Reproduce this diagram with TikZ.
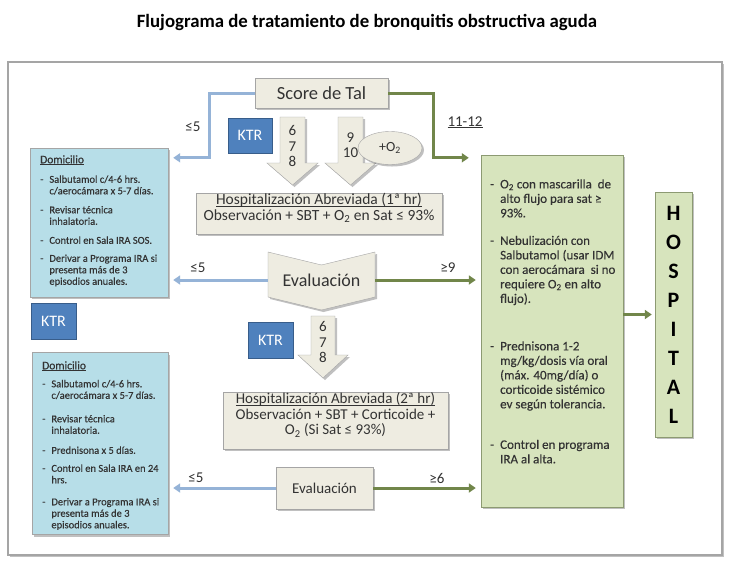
\documentclass[tikz,border=0pt]{standalone}
\usepackage{fontspec}
\setmainfont{Carlito}
\newfontfamily\notefont[FakeBold=0.3]{Carlito}
\usetikzlibrary{shapes,arrows.meta,shadows}
\definecolor{beige}{HTML}{EEECE1}
\definecolor{boxgray}{HTML}{A5A5A5}
\definecolor{textgray}{HTML}{333333}
\definecolor{homeblue}{HTML}{B7DEE8}
\definecolor{wardgreen}{HTML}{D7E4BD}
\definecolor{wardline}{HTML}{8C9A72}
\definecolor{ktrblue}{HTML}{4F81BD}
\definecolor{ktrline}{HTML}{385D8A}
\definecolor{lowblue}{HTML}{95B3D7}
\definecolor{highgreen}{HTML}{71864A}
\newcommand{\ulin}[1]{\underline{\smash{#1}}}
\tikzstyle{Shade} = [drop shadow={shadow xshift=2pt, shadow yshift=-2pt, opacity=.35, fill=black!70}]
\tikzstyle{Box} = [draw=boxgray, fill=beige, Shade, text=textgray, align=center, inner sep=0pt]
\tikzstyle{Shape} = [draw=boxgray, fill=beige, Shade]
\tikzstyle{Ktr} = [draw=ktrline, fill=ktrblue, text=white, font=\fontsize{16}{18}\selectfont, minimum width=44pt, minimum height=35pt, inner sep=0pt]
\tikzstyle{Home} = [draw=boxgray, fill=homeblue, Shade, inner sep=0pt]
\tikzstyle{Ward} = [draw=wardline, fill=wardgreen, Shade, inner sep=0pt]
\tikzstyle{Note} = [anchor=north west, inner sep=0pt, text=textgray, align=left]
\tikzstyle{Low} = [draw=lowblue, line width=3pt, -{Triangle[length=7pt,width=9pt]}, shorten >=5pt]
\tikzstyle{High} = [draw=highgreen, line width=3pt, -{Triangle[length=7pt,width=9pt]}, shorten >=5pt]
\tikzstyle{Label} = [text=textgray, font=\fontsize{15}{17}\selectfont]
\tikzstyle{Digits} = [text=textgray, align=center, font=\fontsize{15}{15.5}\selectfont]

\begin{document}
\begin{tikzpicture}[x=1pt,y=-1pt]
  \useasboundingbox (0,0) rectangle (734,566);
  \node[font=\bfseries\fontsize{18.8}{22}\selectfont] (title) at (367,22)
    {Flujograma de tratamiento de bronquitis obstructiva aguda};
  \node[draw=boxgray, line width=1.2pt, fill=white, Shade, minimum width=714pt, minimum height=493pt] (frame) at (365,308.5) {};

  % left column
  \node[Home, minimum width=138pt, minimum height=149pt] (dom1) at (99,222.5) {};
  \node[Note, font=\notefont\fontsize{10.5}{11.5}\selectfont] (dom1text) at (40,155) {%
    \begin{tabular}{@{}l@{\hspace{6pt}}l@{}}
      \multicolumn{2}{@{}l@{}}{\fontsize{11.5}{11.5}\selectfont\ulin{Domicilio}}\\[8pt]
      - & Salbutamol c/4-6 hrs.\\
        & c/aerocámara x 5-7 días.\\[7.5pt]
      - & Revisar técnica\\
        & inhalatoria.\\[7.5pt]
      - & Control en Sala IRA SOS.\\[6.5pt]
      - & Derivar a Programa IRA si\\
        & presenta más de 3\\
        & episodios anuales.
    \end{tabular}};
  \node[Ktr, minimum width=45pt, minimum height=36pt] (ktr3) at (53.5,321) {KTR};
  \node[Home, minimum width=136pt, minimum height=182pt] (dom2) at (100,443.5) {};
  \node[Note, font=\notefont\fontsize{10.5}{11.5}\selectfont] (dom2text) at (42,361) {%
    \begin{tabular}{@{}l@{\hspace{6pt}}l@{}}
      \multicolumn{2}{@{}l@{}}{\fontsize{11.5}{11.5}\selectfont\ulin{Domicilio}}\\[6.5pt]
      - & Salbutamol c/4-6 hrs.\\
        & c/aerocámara x 5-7 días.\\[12pt]
      - & Revisar técnica\\
        & inhalatoria.\\[8.5pt]
      - & Prednisona x 5 días.\\[6.5pt]
      - & Control en Sala IRA en 24\\
        & hrs.\\[10.5pt]
      - & Derivar a Programa IRA si\\
        & presenta más de 3\\
        & episodios anuales.
    \end{tabular}};

  % middle column
  \node[Box, minimum width=133pt, minimum height=30pt, font=\fontsize{18.5}{20}\selectfont] (score) at (321.5,93) {Score de Tal};
  \node[Ktr] (ktr1) at (250,135.5) {KTR};
  \draw[Shape] (280,117) -- (305,117) -- (305,163) -- (318,163) -- (292.5,185)
    -- (267,163) -- (280,163) -- cycle;
  \node[Digits] (n678a) at (292.5,146) {6\\7\\8};
  \draw[Shape] (338,117) -- (363,117) -- (363,163) -- (376,163) -- (350.5,185)
    -- (325,163) -- (338,163) -- cycle;
  \node[Digits] (n910) at (350.5,145) {9\\10};
  \node[Box, ellipse, minimum width=64pt, minimum height=33pt, font=\fontsize{14}{15}\selectfont] (oxy) at (390,148) {+O\textsubscript{2}};
  \node[Box, minimum width=246pt, minimum height=41pt, font=\fontsize{15.5}{16}\selectfont] (hosp1) at (319,213.5)
    {\ulin{Hospitalización Abreviada (1ª hr)}\\Observación + SBT + O\textsubscript{2} en Sat ≤ 93\%};
  \draw[Shape] (268,252) -- (321.5,265) -- (375,252) -- (375,297) -- (321.5,310)
    -- (268,297) -- cycle;
  \node[text=textgray, minimum width=107pt, minimum height=44pt, inner sep=0pt, font=\fontsize{18}{20}\selectfont] (eval1) at (321.5,280) {Evaluación};
  \node[Ktr, minimum width=45pt, minimum height=36pt] (ktr2) at (270.5,340) {KTR};
  \draw[Shape] (311,316) -- (335,316) -- (335,355) -- (348,355) -- (323,378)
    -- (298,355) -- (311,355) -- cycle;
  \node[Digits] (n678b) at (323,342) {6\\7\\8};
  \node[Box, minimum width=225pt, minimum height=57pt, font=\fontsize{15}{15.5}\selectfont] (hosp2) at (335.5,420.5)
    {\ulin{Hospitalización Abreviada (2ª hr)}\\Observación + SBT + Corticoide +\\O\textsubscript{2} (Si Sat ≤ 93\%)};
  \node[Box, minimum width=97pt, minimum height=42pt, font=\fontsize{15}{18}\selectfont] (eval2) at (324.5,488) {Evaluación};

  % right column
  \node[Ward, minimum width=142pt, minimum height=352pt] (ward) at (552,331) {};
  \node[Note, font=\notefont\fontsize{13}{14.5}\selectfont] (wardtext) at (490,178) {%
    \begin{tabular}{@{}l@{\hspace{6pt}}l@{}}
      - & O\textsubscript{2} con mascarilla\ \ de\\
        & alto flujo para sat ≥\\
        & 93\%.\\[13pt]
      - & Nebulización con\\
        & Salbutamol (usar IDM\\
        & con aerocámara\ \ si no\\
        & requiere O\textsubscript{2} en alto\\
        & flujo).\\[33pt]
      - & Prednisona 1-2\\
        & mg/kg/dosis vía oral\\
        & (máx. 40mg/día) o\\
        & corticoide sistémico\\
        & ev según tolerancia.\\[26pt]
      - & Control en programa\\
        & IRA al alta.
    \end{tabular}};
  \node[Ward, minimum width=37pt, minimum height=245pt, align=center, font=\bfseries\fontsize{22}{29}\selectfont] (hospital) at (673.5,314.5)
    {H\\O\\S\\P\\I\\T\\A\\L};

  % connectors
  \draw[Low] (score.west) -- ++(-45,0) |- ([yshift=-10pt]dom1.north east);
  \draw[High, shorten >=12pt] (score.east) -- ++(45,0) |- ([yshift=-3pt]ward.north west);
  \draw[Low] (eval1.west) -- (eval1.west -| dom1.east);
  \draw[High] (eval1.east) -- (eval1.east -| ward.west);
  \draw[Low] (eval2.west) -- (eval2.west -| dom2.east);
  \draw[High] (eval2.east) -- (eval2.east -| ward.west);
  \draw[High, shorten >=3pt] (hospital.west -| ward.east) -- (hospital.west);

  % labels
  \node[Label] (lbl1) at (193,127) {≤5};
  \node[Label] (lbl2) at (465,127) {\ulin{11-12}};
  \node[Label] (lbl3) at (198,268) {≤5};
  \node[Label] (lbl4) at (448,268) {≥9};
  \node[Label] (lbl5) at (196,478) {≤5};
  \node[Label] (lbl6) at (437,478) {≥6};
\end{tikzpicture}
\end{document}
